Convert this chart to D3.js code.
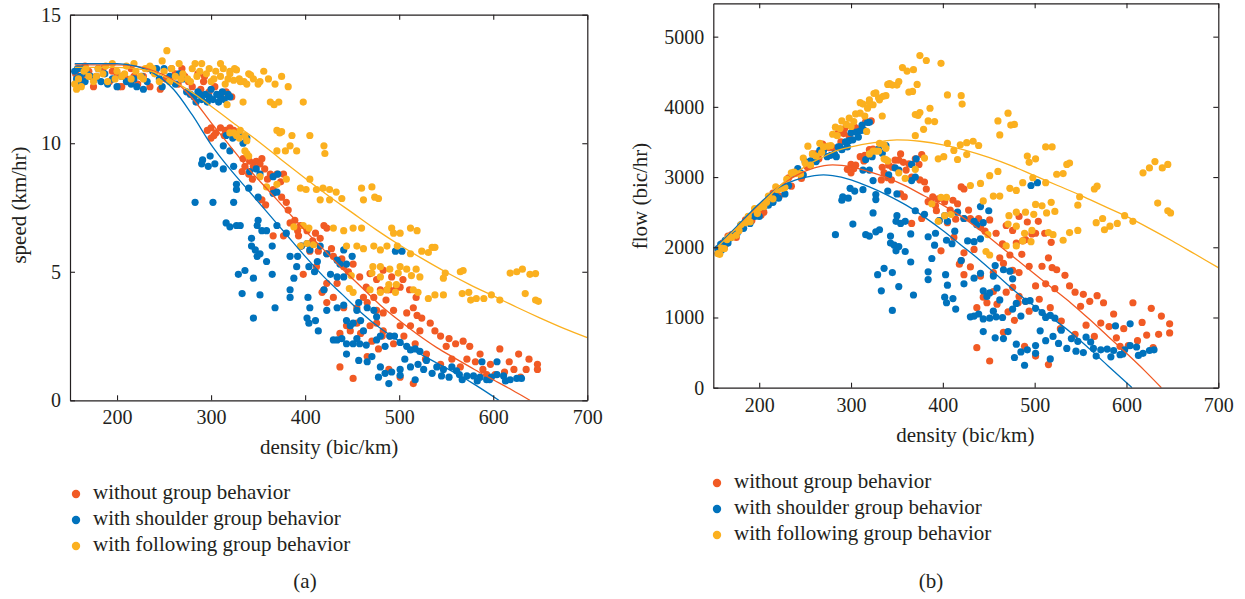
<!DOCTYPE html>
<html>
<head>
<meta charset="utf-8">
<script src="https://cdn.jsdelivr.net/npm/d3@7"></script>
<style>
  body { margin: 0; background: #fff; }
  svg text { font-family: "Liberation Serif", "Times New Roman", serif; fill: #231f20; }
</style>
</head>
<body>
<svg id="fig" width="1245" height="599"></svg>
<script>
// Series and styling keys
const seriesNames = ["without group behavior", "with shoulder group behavior", "with following group behavior"];
const seriesColors = ["#f15a24", "#0072bc", "#fbb01f"];
const densityTicks = [200, 300, 400, 500, 600, 700];
const speedTicks = [0, 5, 10, 15];
const flowTicks = [0, 1000, 2000, 3000, 4000, 5000];

// Observations: [density (bic/km), speed (km/hr), flow (bic/hr)]
const noGroup = [
  [156,12.7,1980],[158,12.4,1960],[160,12.9,2060],[162,12.3,1990],[163,12.5,2040],[166,13.0,2160],[170,12.8,2180],[175,12.2,2140],[178,12.6,2240],[185,12.9,2390],[192,12.4,2380],[195,12.8,2500],[200,12.7,2540],[202,12.2,2460],[205,12.2,2500],[210,12.5,2630],[215,12.9,2770],[218,12.6,2750],[222,12.3,2730],[228,12.6,2870],[232,12.9,2990],[235,12.2,2870],[240,12.8,3070],[246,12.1,2980],[252,12.5,3150],[258,12.9,3330],[262,12.7,3330],[265,12.3,3260],[269,12.9,3470],[272,12.6,3430],[276,12.4,3420],[280,12.2,3420],[286,12.7,3630],[289,12.1,3500],[292,12.4,3620],[293,12.6,3690],[298,12.0,3580],[304,12.2,3710],[310,11.9,3690],[316,12.0,3790],[318,11.9,3780],[322,11.8,3800],
  [296,10.5,3110],[300,10.6,3180],[305,10.4,3170],[310,10.6,3290],[315,10.5,3310],[320,10.6,3390],[324,10.5,3400],[303,10.3,3120],[314,10.3,3230],[300,10.2,3060],
  [334,9.4,3140],[341,9.3,3170],[348,9.3,3240],[354,9.4,3330],[336,9.1,3060],[345,9.1,3140],[352,9.2,3240],[357,9.0,3210],
  [333,8.9,2960],[340,8.8,2990],[344,8.6,2960],[363,8.8,3190],[370,8.8,3260],[377,8.8,3320],[360,8.6,3100],[374,8.5,3180],
  [366,8.2,3000],[375,7.9,2960],[380,7.7,2930],[354,7.8,2760],[358,7.6,2720],[382,7.4,2830],[389,7.0,2720],
  [384,6.9,2650],[392,6.6,2590],[395,6.8,2690],[402,6.6,2650],[420,6.8,2860],[423,6.7,2830],[411,6.5,2670],
  [366,6.4,2340],[377,6.4,2410],[393,6.4,2520],[396,6.0,2380],[405,5.8,2350],[408,6.2,2530],[414,5.8,2400],[416,6.3,2620],[423,5.7,2410],[428,5.9,2530],[430,5.6,2410],[439,5.5,2410],
  [398,4.9,1950],[412,5.2,2140],[423,4.55,1920],[434,4.55,1970],[446,5.0,2230],[458,4.8,2200],
  [441,5.2,2290],[451,5.3,2390],[462,4.0,1850],[473,4.0,1890],[480,4.3,2060],[490,4.3,2110],[497,4.4,2190],[504,4.7,2370],[511,4.3,2200],[518,4.0,2070],
  [455,3.6,1640],[466,3.8,1770],[476,3.5,1670],[483,3.4,1640],[486,3.9,1900],[494,3.5,1730],[508,3.4,1730],[515,3.6,1850],
  [444,2.9,1290],[455,3.0,1370],[469,2.9,1360],[476,3.0,1430],[483,2.7,1300],[490,2.5,1230],[505,2.5,1260],[522,2.7,1410],[538,2.7,1450],
  [423,3.8,1610],[418,4.2,1760],[420,4.3,1810],[430,4.0,1720],[441,3.6,1590],[465,4.4,2050],[487,4.3,2090],[501,4.4,2200],[519,3.3,1710],[524,3.2,1680],[512,2.9,1480],[533,3.0,1600],
  [469,4.93,2310],[476,4.7,2240],[483,5.06,2440],[492,4.8,2360],
  [437,2.6,1140],[448,2.7,1210],[459,2.6,1190],[471,2.3,1080],[482,2.5,1210],[494,2.2,1090],[501,2.9,1450],[517,2.2,1140],[529,1.8,950],[544,2.5,1360],[550,2.1,1160],[553,2.4,1330],[560,2.2,1230],[568,2.3,1310],[575,2.1,1210],[586,1.8,1050],[607,2.0,1210],[627,1.8,1130],[638,1.6,1020],[647,1.4,910],[647,1.2,780],
  [437,1.3,570],[451,0.85,380],[466,1.7,790],[478,2.0,960],[489,1.2,590],[501,0.9,450],[515,0.65,330],[528,1.6,840],[544,1.4,760],[556,1.6,890],[565,1.3,730],[572,1.6,920],[581,1.5,870],[589,1.2,710],[593,1.0,590],[597,1.4,840],[602,1.0,600],[612,1.1,670],[617,1.5,930],[622,1.2,750],[629,0.9,570],[635,1.2,760]
];

const shoulderGroup = [
  [155,12.8,1980],[157,12.5,1960],[158,12.9,2040],[159,12.3,1960],[161,12.6,2030],[163,12.9,2100],[166,12.4,2060],[168,12.7,2130],[172,12.6,2170],[176,12.5,2200],[180,12.9,2320],[183,12.4,2270],[187,12.7,2370],[190,12.3,2340],[195,12.5,2440],[200,12.2,2440],[205,12.6,2580],[210,12.4,2600],[215,12.3,2640],[218,12.5,2730],[221,12.2,2700],[226,12.6,2850],[228,12.1,2760],[232,12.4,2880],[238,12.8,3050],[242,12.9,3120],[245,12.5,3060],[248,12.2,3030],[250,12.9,3220],[256,12.6,3230],[262,12.3,3220],[266,12.7,3380],[270,12.5,3380],[274,12.0,3290],[278,11.9,3310],[282,11.8,3330],[284,11.6,3290],[286,12.0,3430],[288,11.9,3430],[290,11.7,3390],[294,11.9,3500],[296,11.6,3430],[298,11.8,3520],[300,12.1,3630],[302,11.7,3530],[306,11.9,3640],[308,11.6,3570],[310,11.8,3660],[312,12.0,3740],[314,11.7,3670],[318,11.9,3780],[320,11.8,3780],
  [316,10.3,3250],[323,10.2,3290],[330,10.3,3400],[338,10.2,3450],[313,9.9,3100],[320,9.7,3100],[334,10.0,3340],
  [291,9.35,2720],[290,9.2,2670],[299,9.5,2840],[304,9.2,2800],[297,9.1,2700],
  [313,9.0,2820],[324,9.1,2950],[341,8.9,3030],[348,9.0,3130],[352,8.8,3100],[366,8.7,3180],[371,8.8,3260],
  [327,8.4,2750],[327,8.2,2680],[340,8.25,2800],[350,7.9,2760],[366,8.05,2950],[370,8.1,3000],
  [283,7.7,2180],[302,7.7,2330],[324,7.7,2490],[350,7.0,2450],[349,6.8,2370],[354,6.6,2340],[359,6.6,2370],[370,6.8,2520],[380,6.5,2470],
  [316,6.9,2180],[320,6.75,2160],[327,6.8,2220],[331,6.8,2250],
  [343,6.3,2160],[343,6.0,2060],[347,5.85,2030],[349,5.6,1950],[352,5.7,2010],[365,6.0,2190],[384,5.6,2150],[392,5.6,2200],[396,6.0,2380],[402,6.1,2450],[405,5.85,2370],[416,6.0,2500],[423,5.7,2410],[434,5.45,2370],[437,5.3,2320],[444,5.3,2350],[450,5.6,2520],[441,5.85,2580],
  [336,5.05,1700],[329,4.9,1610],[345,4.75,1640],[359,5.4,1940],[365,4.9,1790],[388,4.75,1840],[391,5.2,2030],[404,5.2,2100],[410,5.0,2050],[413,5.4,2230],[427,4.9,2090],[434,4.8,2080],[441,4.8,2120],
  [333,4.15,1380],[352,4.1,1440],[368,3.6,1320],[384,4.3,1650],[384,4.0,1540],[403,4.0,1610],[420,4.3,1810],[423,3.5,1480],[434,3.6,1560],[455,3.5,1590],[466,3.6,1680],[345,3.2,1100],
  [402,3.2,1290],[404,3.0,1210],[411,3.1,1270],[414,2.7,1120],[444,3.1,1380],[448,2.9,1300],[451,3.0,1350],[459,3.1,1420],[462,2.7,1250],[473,3.5,1660],[476,3.25,1550],
  [430,2.35,1010],[455,2.4,1090],[476,2.35,1120],[490,2.5,1230],[496,5.8,2880],[503,5.8,2920],
  [405,3.6,1460],[441,3.7,1630],[457,3.8,1740],
  [434,2.35,1020],[439,2.4,1050],[444,2.2,980],[451,2.2,990],[458,2.2,1010],[465,2.15,1000],[480,2.5,1200],[485,2.1,1020],[495,2.5,1240],[501,2.25,1130],[508,2.1,1070],[512,1.96,1000],[517,2.0,1030],[522,1.9,990],
  [444,1.8,800],[457,1.55,710],[466,1.5,700],[471,1.7,800],[480,1.3,620],[485,1.05,510],[492,1.1,540],[501,1.2,600],[506,1.6,810],[512,1.3,670],[520,1.4,730],[526,1.2,630],[529,1.55,820],[535,1.05,560],[540,1.3,700],[545,0.95,520],[547,1.2,660],[553,0.9,500],[556,1.3,720],[561,1.15,650],[564,1.0,560],[567,0.8,450],[572,0.95,540],[579,0.95,550],[583,0.75,440],[586,0.9,530],[593,0.8,470],[596,0.8,480],[598,0.9,540],[604,1.0,600],[611,0.95,580],[613,0.75,460],[618,0.8,490],[625,0.85,530],[630,0.85,540],
  [478,0.9,430],[489,0.65,320],[501,0.97,490],[517,0.8,410],[588,1.5,880],[604,1.5,910]
];

const followingGroup = [
  [155,12.3,1910],[157,12.1,1900],[159,12.5,1990],[162,12.2,1980],[165,12.8,2110],[167,12.9,2150],[170,12.6,2140],[175,12.4,2170],[178,12.6,2240],[180,12.9,2320],[185,12.7,2350],[188,13.0,2440],[190,12.4,2360],[195,13.1,2550],[198,12.5,2480],[200,12.8,2560],[205,12.6,2580],[208,12.7,2640],[210,13.0,2730],[215,12.5,2690],[218,13.1,2860],[220,12.8,2820],[225,12.6,2840],[228,12.5,2850],[230,12.9,2970],[235,13.0,3060],[238,12.9,3070],[240,12.7,3050],[245,12.4,3040],[248,13.2,3270],[250,12.8,3200],[253,13.6,3440],[256,12.4,3170],[258,12.9,3330],[262,12.6,3300],[266,13.1,3480],[268,12.5,3350],[270,12.7,3430],[275,12.5,3440],[278,12.4,3450],[280,12.9,3610],[283,13.1,3710],[285,12.6,3590],[288,12.8,3690],[290,13.1,3800],[295,12.7,3750],[298,12.9,3840],[300,12.4,3720],[303,12.5,3790],[305,12.8,3900],[310,12.6,3910],[310,13.1,4060],[313,12.9,4040],[315,12.3,3870],[318,12.5,3980],[320,12.7,4060],[320,12.8,4100],[324,12.45,4030],[325,12.9,4190],[327,12.85,4200],[330,12.5,4130],[331,12.4,4100],[335,12.4,4150],[338,12.3,4160],[340,12.7,4320],[342,12.65,4330],[345,12.5,4310],[350,12.3,4310],[352,12.4,4360],[356,12.8,4560],[361,12.5,4510],[368,12.3,4530],[375,12.6,4730],[382,12.2,4660],
  [363,11.6,4210],[367,11.5,4220],[372,11.6,4320],[398,11.6,4620],[334,11.6,3870],[317,11.5,3650],
  [324,10.4,3370],[330,10.2,3370],[338,10.1,3410],[370,10.5,3890],[373,10.4,3880],[375,10.45,3920],[405,10.3,4170],[320,10.4,3330],[327,10.3,3370],[336,10.3,3460],[331,10.5,3480],[336,9.7,3260],[340,9.5,3230],[338,9.6,3250],[386,10.3,3980],
  [370,9.7,3590],[379,9.7,3680],[384,9.9,3800],[391,9.7,3790],[420,9.9,4160],[421,9.6,4040],
  [352,8.7,3060],[359,8.3,2980],[370,8.4,3110],[380,8.6,3270],[395,8.25,3260],[401,8.2,3290],[405,8.6,3480],[412,8.2,3380],[419,8.25,3460],[426,8.2,3490],[433,8.1,3510],[439,7.85,3450],[416,7.8,3250],[426,7.8,3320],
  [460,8.25,3800],[462,7.8,3600],[471,8.3,3910],[474,7.9,3740],[478,7.85,3750],
  [388,6.75,2620],[398,6.8,2710],[404,6.7,2710],[430,6.7,2880],[441,6.6,2910],[451,6.7,3020],[460,6.7,3080],[492,6.7,3300],[494,6.5,3210],[501,6.5,3260],[512,6.7,3430],[519,6.6,3430],
  [395,6.0,2370],[409,6.05,2470],[402,6.1,2450],[444,6.0,2660],[455,6.0,2730],[462,5.9,2730],[473,6.0,2840],[480,5.85,2810],[487,6.0,2920],[498,6.0,2990],[512,5.7,2920],[524,5.8,3040],[531,5.75,3050],[535,5.95,3180],[538,5.95,3200],
  [449,4.85,2180],[472,5.2,2450],[480,5.2,2500],[490,5.1,2500],[501,5.2,2610],[508,5.1,2590],[518,5.1,2640],[497,4.5,2240],[489,4.5,2200],[471,4.95,2330],[480,4.8,2300],[499,4.95,2470],[513,4.85,2490],[522,4.8,2510],[547,4.75,2600],[549,4.95,2720],[565,5.0,2830],[568,5.05,2870],[618,4.95,3060],[625,5.0,3130],[631,5.1,3220],[639,4.9,3130],[645,4.93,3180],
  [447,4.35,1940],[451,4.2,1890],[469,4.3,2020],[480,4.2,2020],[487,4.3,2090],[496,4.2,2080],[515,4.3,2210],[520,4.2,2180],[531,3.96,2100],[538,4.1,2210],[547,4.1,2240],[567,4.15,2350],[574,4.2,2410],[576,3.9,2250],[582,3.96,2300],[590,3.96,2340],[598,4.1,2450],[607,3.9,2370],[634,4.15,2630],[645,3.9,2520],[648,3.85,2490]
];

// Fitted speed-density curves: [density, speed]
const speedFitNoGroup = [[155,13.05],[200,13.05],[220,13.0],[240,12.8],[260,12.45],[280,11.75],[300,10.8],[320,9.9],[340,9.0],[360,8.2],[380,7.4],[400,6.6],[420,5.85],[440,5.1],[460,4.4],[480,3.7],[500,3.1],[520,2.55],[540,2.05],[560,1.62],[580,1.2],[600,0.8],[620,0.4],[639,0]];
const speedFitShoulder = [[155,13.1],[200,13.1],[220,13.0],[240,12.7],[260,12.1],[280,11.1],[300,9.95],[320,9.0],[340,8.15],[360,7.3],[380,6.45],[400,5.6],[420,4.8],[440,4.1],[460,3.4],[480,2.8],[500,2.3],[520,1.85],[540,1.45],[560,1.05],[580,0.62],[606,0]];
const speedFitFollowing = [[155,12.95],[200,12.95],[230,12.85],[250,12.6],[270,12.2],[285,11.85],[300,11.44],[325,10.75],[350,10.08],[375,9.35],[400,8.64],[425,7.95],[450,7.3],[475,6.65],[500,6.05],[525,5.5],[550,4.98],[575,4.5],[600,4.06],[625,3.62],[650,3.2],[675,2.8],[700,2.44]];

// Fitted flow-density curves: [density, flow]
const flowFitNoGroup = [[152,1985],[175,2280],[200,2600],[220,2850],[240,3020],[260,3130],[280,3175],[300,3150],[320,3075],[340,2990],[360,2870],[380,2730],[400,2600],[420,2440],[440,2250],[460,2040],[480,1830],[500,1620],[520,1410],[540,1200],[560,970],[580,730],[600,490],[620,240],[638,0]];
const flowFitShoulder = [[152,1990],[175,2290],[200,2620],[220,2840],[240,2960],[260,3020],[270,3030],[280,3020],[300,2960],[320,2860],[340,2740],[360,2600],[380,2430],[400,2240],[420,2030],[440,1820],[460,1590],[480,1360],[500,1160],[520,980],[540,780],[560,550],[580,310],[606,0]];
const flowFitFollowing = [[155,2010],[200,2590],[230,2960],[250,3150],[270,3290],[285,3380],[300,3430],[325,3490],[350,3530],[375,3510],[400,3460],[425,3380],[450,3280],[475,3160],[500,3020],[525,2880],[550,2740],[575,2590],[600,2440],[625,2270],[650,2090],[675,1900],[700,1710]];

const svg = d3.select("#fig");
const TICK_FONT = 20;
const TEXT_FONT = 21;
const INK = "#231f20";
const observations = [noGroup, shoulderGroup, followingGroup];

function drawPanel(cfg) {
  const x = d3.scaleLinear().domain([150, 700]).range([cfg.left, cfg.right]);
  const y = d3.scaleLinear().domain(cfg.yDomain).range([cfg.bottom, cfg.top]);
  const g = svg.append("g");

  const clipId = "clip-" + cfg.id;
  g.append("clipPath").attr("id", clipId)
    .append("rect")
    .attr("x", cfg.left).attr("y", cfg.top)
    .attr("width", cfg.right - cfg.left).attr("height", cfg.bottom - cfg.top);

  const plot = g.append("g").attr("clip-path", `url(#${clipId})`);

  // scatter points, one layer per behaviour group
  observations.forEach((rows, i) => {
    plot.append("g").selectAll("circle")
      .data(rows)
      .join("circle")
      .attr("cx", d => x(d[0]))
      .attr("cy", d => y(d[cfg.valueIndex]))
      .attr("r", 3.6)
      .attr("fill", seriesColors[i]);
  });

  // fitted curves
  const line = d3.line().x(d => x(d[0])).y(d => y(d[1])).curve(d3.curveMonotoneX);
  cfg.fits.forEach((fit, i) => {
    plot.append("path")
      .attr("d", line(fit))
      .attr("fill", "none")
      .attr("stroke", seriesColors[i])
      .attr("stroke-width", 1.3);
  });

  // axes with inward ticks, mirrored on top and right
  const styleAxis = sel => {
    sel.attr("font-size", null).attr("font-family", null);
    sel.selectAll("path.domain").attr("stroke", INK).attr("stroke-width", 1.2);
    sel.selectAll(".tick line").attr("stroke", INK).attr("stroke-width", 1.1);
    sel.selectAll(".tick text").attr("font-size", TICK_FONT).attr("fill", INK);
  };
  const plain = d3.format("d");

  g.append("g").attr("transform", `translate(0,${cfg.bottom})`)
    .call(d3.axisBottom(x).tickValues(densityTicks).tickFormat(plain).tickSize(-5).tickSizeOuter(0).tickPadding(10))
    .call(styleAxis);
  g.append("g").attr("transform", `translate(0,${cfg.top})`)
    .call(d3.axisTop(x).tickValues(densityTicks).tickSize(-5).tickSizeOuter(0).tickFormat(""))
    .call(styleAxis);
  g.append("g").attr("transform", `translate(${cfg.left},0)`)
    .call(d3.axisLeft(y).tickValues(cfg.yTicks).tickFormat(plain).tickSize(-5).tickSizeOuter(0).tickPadding(9))
    .call(styleAxis);
  g.append("g").attr("transform", `translate(${cfg.right},0)`)
    .call(d3.axisRight(y).tickValues(cfg.yTicks).tickSize(-5).tickSizeOuter(0).tickFormat(""))
    .call(styleAxis);

  // axis titles
  g.append("text")
    .attr("x", (cfg.left + cfg.right) / 2 + cfg.xTitleShift)
    .attr("y", cfg.xTitleY)
    .attr("text-anchor", "middle")
    .attr("font-size", TEXT_FONT)
    .text("density (bic/km)");
  g.append("text")
    .attr("transform", `translate(${cfg.yTitleX},${cfg.yTitleY}) rotate(-90)`)
    .attr("text-anchor", "middle")
    .attr("font-size", TEXT_FONT)
    .text(cfg.yTitle);

  // legend
  seriesNames.forEach((name, i) => {
    const base = cfg.legendY + i * 26;
    g.append("circle")
      .attr("cx", cfg.legendX).attr("cy", base - 5)
      .attr("r", 4.2)
      .attr("fill", seriesColors[i]);
    g.append("text")
      .attr("x", cfg.legendX + 17).attr("y", base)
      .attr("font-size", TEXT_FONT)
      .text(name);
  });

  // panel tag
  g.append("text")
    .attr("x", cfg.tagX).attr("y", 587.5)
    .attr("text-anchor", "middle")
    .attr("font-size", TEXT_FONT)
    .text(cfg.tag);
}

drawPanel({
  id: "speed", left: 70, right: 587.3, top: 14.7, bottom: 400.3,
  yDomain: [0, 15], yTicks: speedTicks, valueIndex: 1,
  fits: [speedFitNoGroup, speedFitShoulder, speedFitFollowing],
  xTitleY: 454, xTitleShift: 0.5,
  yTitle: "speed (km/hr)", yTitleX: 26, yTitleY: 205,
  legendX: 76, legendY: 499, tag: "(a)", tagX: 305
});

drawPanel({
  id: "flow", left: 713.3, right: 1218.3, top: 3.3, bottom: 387.7,
  yDomain: [0, 5475], yTicks: flowTicks, valueIndex: 2,
  fits: [flowFitNoGroup, flowFitShoulder, flowFitFollowing],
  xTitleY: 442, xTitleShift: -0.5,
  yTitle: "flow (bic/hr)", yTitleX: 647, yTitleY: 196,
  legendX: 717, legendY: 488, tag: "(b)", tagX: 931
});
</script>
</body>
</html>
